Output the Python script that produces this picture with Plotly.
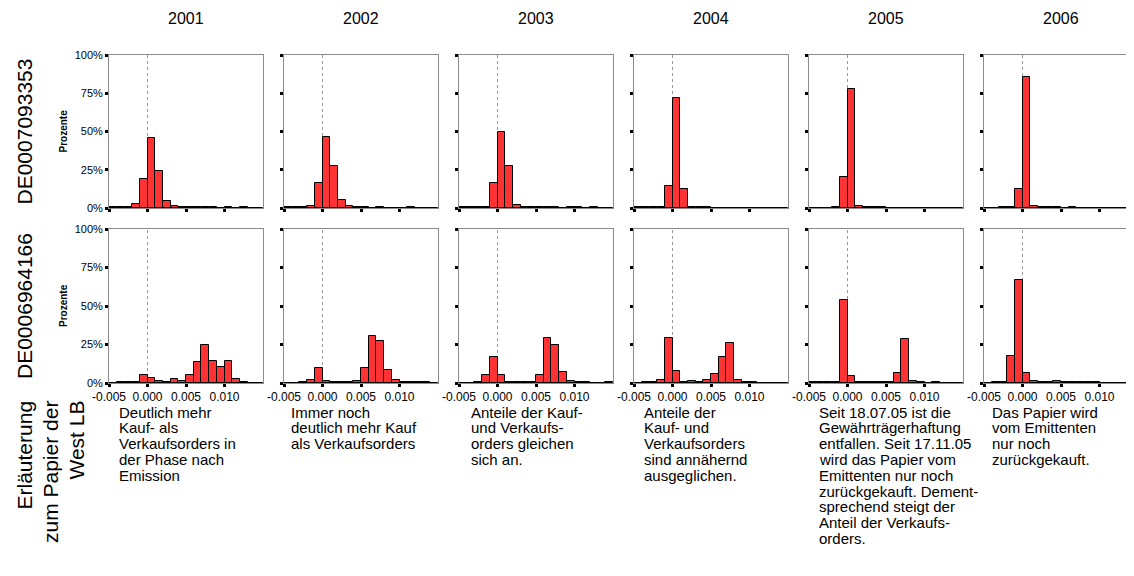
import plotly.graph_objects as go

W, H = 1134, 576

years = ["2001", "2002", "2003", "2004", "2005", "2006"]
securities = ["DE0007093353", "DE0006964166"]

# bins of width 0.001 from -0.005 to 0.015 (percent of orders per bin)
bin_start = -0.005
bin_width = 0.001

de7093353_2001 = [0.4, 0.4, 0.4, 2.4, 19.2, 45.6, 24.2, 4.4, 1.5, 0.4, 0.4, 0.4, 0.4, 0.4, 0, 0.4, 0, 0.4, 0, 0]
de7093353_2002 = [0.4, 0.4, 0.4, 1.1, 16.4, 46.3, 27.7, 5.5, 1.1, 0.4, 0.4, 0, 0.4, 0, 0, 0, 0.4, 0, 0, 0]
de7093353_2003 = [0.4, 0.4, 0.4, 0.9, 16.6, 50.0, 27.7, 2.2, 0.4, 0.4, 0.4, 0.4, 0.4, 0, 0.4, 0.4, 0, 0.4, 0, 0]
de7093353_2004 = [0.4, 0.4, 0.4, 0.4, 14.4, 71.6, 12.7, 0.4, 0.4, 0.4, 0, 0, 0, 0, 0, 0, 0, 0, 0, 0]
de7093353_2005 = [0, 0, 0, 0.4, 20.1, 77.7, 1.5, 0.4, 0.4, 0.4, 0, 0, 0, 0, 0, 0, 0, 0, 0, 0]
de7093353_2006 = [0, 0, 0.4, 0.4, 12.7, 85.8, 1.1, 0.4, 0.4, 0.4, 0, 0.4, 0, 0, 0, 0, 0, 0, 0, 0]

de6964166_2001 = [0, 0.4, 0.4, 0.4, 5.4, 3.2, 1.3, 0.4, 2.6, 1.1, 5.0, 13.9, 24.7, 14.1, 10.6, 14.5, 2.6, 0.4, 0, 0]
de6964166_2002 = [0, 0, 0.5, 2.0, 10.0, 1.3, 0.7, 0.4, 0.7, 1.3, 10.0, 30.3, 27.2, 8.5, 2.0, 0.7, 0.4, 0.4, 0.4, 0]
de6964166_2003 = [0, 0, 0.4, 5.0, 17.0, 5.0, 0.7, 0.4, 0.7, 0.4, 5.0, 29.2, 24.8, 7.0, 1.5, 0.4, 0.4, 0, 0, 0.4]
de6964166_2004 = [0, 0.4, 0.5, 2.0, 29.2, 7.8, 0.7, 1.3, 0.4, 2.0, 5.7, 17.0, 26.1, 2.0, 0.7, 0.4, 0, 0, 0, 0]
de6964166_2005 = [0.4, 0.4, 0.4, 0.6, 54.2, 4.6, 0.4, 0.4, 0.4, 0.4, 0.4, 6.3, 28.5, 1.3, 0.4, 0, 0.4, 0, 0, 0]
de6964166_2006 = [0, 0.4, 0.6, 17.8, 66.9, 6.3, 1.3, 0.4, 0.4, 1.3, 0.4, 0.4, 0.4, 0.4, 0.6, 0, 0, 0, 0, 0]

rows = [
    [de7093353_2001, de7093353_2002, de7093353_2003, de7093353_2004, de7093353_2005, de7093353_2006],
    [de6964166_2001, de6964166_2002, de6964166_2003, de6964166_2004, de6964166_2005, de6964166_2006],
]

x_tickvals = [-0.005, 0.0, 0.005, 0.010]
x_ticktext = ["-0.005", "0.000", "0.005", "0.010"]
y_tickvals = [0, 25, 50, 75, 100]
y_ticktext = ["0%", "25%", "50%", "75%", "100%"]

notes = [
    ["Deutlich mehr", "Kauf- als", "Verkaufsorders in", "der Phase nach", "Emission"],
    ["Immer noch", "deutlich mehr Kauf", "als Verkaufsorders"],
    ["Anteile der Kauf-", "und Verkaufs-", "orders gleichen", "sich an."],
    ["Anteile der", "Kauf- und", "Verkaufsorders", "sind annähernd", "ausgeglichen."],
    ["Seit 18.07.05 ist die", "Gewährträgerhaftung", "entfallen. Seit 17.11.05",
     "wird das Papier vom", "Emittenten nur noch", "zurückgekauft. Dement-",
     "sprechend steigt der", "Anteil der Verkaufs-", "orders."],
    ["Das Papier wird", "vom Emittenten", "nur noch", "zurückgekauft."],
]
side_label = ["Erläuterung", "zum Papier der", "West LB"]

FONT = "Arial, Liberation Sans, sans-serif"
RED = "#FF3333"

# page offset (browser body margin) compensation
OFF = 8


def px(xp):
    return (xp - OFF) / W


def py(yp):
    return 1 - (yp - OFF) / H


# layout geometry (pixels, screen coordinates)
col_left = [109 + 175 * c for c in range(6)]
panel_w = 154
row_top = [55, 229]
row_bot = [208, 383]

fig = go.Figure()
layout = dict(
    width=W, height=H, margin=dict(l=0, r=0, t=0, b=0, pad=0, autoexpand=False),
    paper_bgcolor="white", plot_bgcolor="white", showlegend=False,
    bargap=0, font=dict(family=FONT, color="black"),
)
shapes = []
annotations = []

centers = [bin_start + bin_width * (k + 0.5) for k in range(20)]

for r in range(2):
    for c in range(6):
        i = r * 6 + c + 1
        xs = "" if i == 1 else str(i)
        fig.add_trace(go.Bar(
            x=centers, y=rows[r][c], width=bin_width,
            marker=dict(color=RED, line=dict(color="black", width=1)),
            xaxis="x" + xs, yaxis="y" + xs, hoverinfo="x+y",
        ))
        x0 = col_left[c]
        x1 = x0 + panel_w
        layout["xaxis" + xs] = dict(
            domain=[px(x0), min(1.0, px(x1))], anchor="y" + xs, range=[-0.005, 0.015],
            tickvals=x_tickvals, ticktext=x_ticktext, showticklabels=(r == 1),
            ticks="outside", ticklen=3, tickwidth=3, tickcolor="black",
            showline=True, mirror=True, linecolor="#8c8c8c", linewidth=1,
            showgrid=False, zeroline=False,
            tickfont=dict(size=12, family=FONT, color="black"),
            fixedrange=True, automargin=False,
        )
        layout["yaxis" + xs] = dict(
            domain=[py(row_bot[r]), py(row_top[r])], anchor="x" + xs,
            range=[0, 100], tickvals=y_tickvals, ticktext=y_ticktext,
            showticklabels=(c == 0), ticks="outside", ticklen=3, tickwidth=3,
            tickcolor="black", showline=True, mirror=True, linecolor="#8c8c8c",
            linewidth=1, showgrid=False, zeroline=False,
            tickfont=dict(size=11, family=FONT, color="black"),
            fixedrange=True, automargin=False,
        )
        shapes.append(dict(
            type="line", xref="x" + xs, yref="y" + xs, x0=0, x1=0, y0=0, y1=100,
            line=dict(color="#999999", width=1, dash="dot"), layer="below",
        ))

# column titles
for c, yr in enumerate(years):
    annotations.append(dict(
        text=yr, xref="paper", yref="paper",
        x=px(col_left[c] + panel_w / 2), y=py(18),
        showarrow=False, font=dict(size=16, family=FONT),
        xanchor="center", yanchor="middle",
    ))

# row labels
for r, sec in enumerate(securities):
    yc = (row_top[r] + row_bot[r]) / 2
    annotations.append(dict(
        text=sec, xref="paper", yref="paper", x=px(24), y=py(yc),
        showarrow=False, textangle=-90, font=dict(size=21, family=FONT),
        xanchor="center", yanchor="middle",
    ))
    annotations.append(dict(
        text="<b>Prozente</b>", xref="paper", yref="paper", x=px(63), y=py(yc),
        showarrow=False, textangle=-90, font=dict(size=10, family=FONT),
        xanchor="center", yanchor="middle",
    ))

# explanatory notes
note_x = [117, 289, 469, 642, 817, 990]
line_pitch = 15.8
for c, lines in enumerate(notes):
    for k, ln in enumerate(lines):
        annotations.append(dict(
            text=ln, xref="paper", yref="paper", x=px(note_x[c]),
            y=py(412 + k * line_pitch), showarrow=False,
            font=dict(size=15, family=FONT), xanchor="left", yanchor="middle",
        ))

# rotated side label
side_x = [24, 50, 76]
for k, ln in enumerate(side_label):
    annotations.append(dict(
        text=ln, xref="paper", yref="paper", x=px(side_x[k]), y=py(399),
        showarrow=False, textangle=-90, font=dict(size=21, family=FONT),
        xanchor="center", yanchor="top",
    ))

layout["shapes"] = shapes
layout["annotations"] = annotations
fig.update_layout(**layout)
fig.write_html("out.html")
